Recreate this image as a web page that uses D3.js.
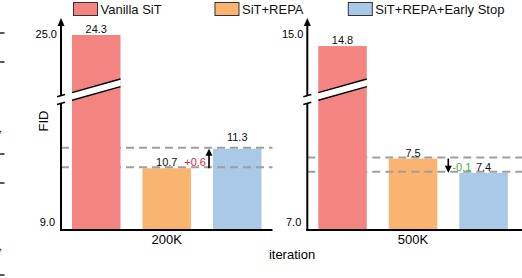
<!DOCTYPE html>
<html>
<head>
<meta charset="utf-8">
<script src="https://cdn.jsdelivr.net/npm/d3@7"></script>
<style>
  html, body { margin: 0; padding: 0; background: #fff; }
  svg { display: block; font-family: "Liberation Sans", Arial, sans-serif; }
</style>
</head>
<body>
<div id="chart"></div>
<script>
// Data
const methods = ["Vanilla SiT", "SiT+REPA", "SiT+REPA+Early Stop"];
const iterations = ["200K", "500K"];
const fid200K = [24.3, 10.7, 11.3];
const fid500K = [14.8, 7.5, 7.4];
const deltaLabels = ["+0.6", "-0.1"];
const topTicks = ["25.0", "15.0"];
const bottomTicks = ["9.0", "7.0"];
// lower / upper parts of the broken y axes
const lowerDomains = [[8.8, 12.8], [7.0, 7.91]];
const upperDomains = [[20, 25.5], [14, 15.25]];

const colors = ["#f48482", "#f9b46f", "#a9c9e7"];

// Set dimensions
const width = 522,
    height = 278;
const baseY = 230,
    axisTop = 18,
    breakY = 99.5,
    breakTop = 96,
    lowerTop = 100,
    slope = -0.28,
    gap = 3.8;
const panelX = [61, 307.3];
const panelW = 211.5;

const svg = d3
    .select("#chart")
    .append("svg")
    .attr("width", width)
    .attr("height", height);

// Legend
const legendX = [73.5, 215, 348.3];
const legend = svg
    .selectAll("g.legend")
    .data(methods)
    .enter()
    .append("g")
    .attr("class", "legend")
    .attr("transform", (d, i) => `translate(${legendX[i]},2.5)`);
legend
    .append("rect")
    .attr("width", 24)
    .attr("height", 13)
    .attr("fill", (d, i) => colors[i])
    .attr("stroke", "#333")
    .attr("stroke-width", 1);
legend
    .append("text")
    .attr("x", 27)
    .attr("y", 11)
    .attr("font-size", 13)
    .attr("fill", "#111")
    .text((d) => d);

const series = [fid200K, fid500K];

iterations.forEach((iter, p) => {
    const x0 = panelX[p];
    const values = series[p];
    const x = d3
        .scaleBand()
        .domain(methods)
        .range([x0, x0 + panelW])
        .paddingInner(0.312)
        .paddingOuter(0.156);
    const lower = d3.scaleLinear().domain(lowerDomains[p]).range([baseY, lowerTop]);
    const upper = d3.scaleLinear().domain(upperDomains[p]).range([breakTop, axisTop]);
    const yOf = (v) => (v > lowerDomains[p][1] ? upper(v) : lower(v));
    const xEnd = p === iterations.length - 1 ? width : x0 + panelW;

    const g = svg.append("g");

    // orange + blue bars
    g.selectAll("rect.low")
        .data(values.slice(1))
        .enter()
        .append("rect")
        .attr("x", (d, i) => x(methods[i + 1]))
        .attr("y", (d) => yOf(d))
        .attr("width", x.bandwidth())
        .attr("height", (d) => baseY - yOf(d))
        .attr("fill", (d, i) => colors[i + 1]);

    // dashed reference lines
    g.selectAll("line.ref")
        .data(values.slice(1))
        .enter()
        .append("line")
        .attr("x1", x0)
        .attr("x2", xEnd)
        .attr("y1", (d) => yOf(d) - 1)
        .attr("y2", (d) => yOf(d) - 1)
        .attr("stroke", "#9e9e9e")
        .attr("stroke-width", 2)
        .attr("stroke-dasharray", "8,5");

    // vanilla bar (broken)
    const v0 = values[0];
    const bx = x(methods[0]),
        bw = x.bandwidth();
    g.append("rect")
        .attr("x", bx)
        .attr("y", yOf(v0))
        .attr("width", bw)
        .attr("height", baseY - yOf(v0))
        .attr("fill", colors[0]);

    // y axis
    g.append("line")
        .attr("x1", x0)
        .attr("x2", x0)
        .attr("y1", baseY + 1)
        .attr("y2", axisTop + 5)
        .attr("stroke", "#000")
        .attr("stroke-width", 2);
    g.append("path")
        .attr("d", `M${x0},${axisTop} L${x0 - 3.5},${axisTop + 8} L${x0 + 3.5},${axisTop + 8} Z`)
        .attr("fill", "#000");

    // x axis
    g.append("line")
        .attr("x1", x0 - 1)
        .attr("x2", xEnd)
        .attr("y1", baseY)
        .attr("y2", baseY)
        .attr("stroke", "#000")
        .attr("stroke-width", 2);

    // break band
    const by = (xx, off) => breakY + slope * (xx - x0) + off;
    const bxs = x0 - 4,
        bxe = bx + bw;
    g.append("path")
        .attr(
            "d",
            `M${bxs},${by(bxs, -gap)} L${bxe},${by(bxe, -gap)} L${bxe},${by(bxe, gap)} L${bxs},${by(bxs, gap)} Z`,
        )
        .attr("fill", "#fff");
    [-gap, gap].forEach((off) => {
        [[x0 - 4, x0 + 4], [bx, bx + bw]].forEach(([a, b]) => {
            g.append("line")
                .attr("x1", a)
                .attr("x2", b)
                .attr("y1", by(a, off))
                .attr("y2", by(b, off))
                .attr("stroke", "#000")
                .attr("stroke-width", 1.5);
        });
    });

    // tick labels
    g.append("text")
        .attr("x", x0 - 4)
        .attr("y", axisTop + 20)
        .attr("text-anchor", "end")
        .attr("font-size", 11)
        .text(topTicks[p]);
    g.append("text")
        .attr("x", x0 - 6)
        .attr("y", baseY - 4)
        .attr("text-anchor", "end")
        .attr("font-size", 11)
        .text(bottomTicks[p]);

    // x category label
    g.append("text")
        .attr("x", x0 + panelW / 2)
        .attr("y", baseY + 14)
        .attr("text-anchor", "middle")
        .attr("font-size", 13)
        .text(iter);

    // value labels
    const lift = values[2] > values[1] ? 6 : 0;
    g.selectAll("text.val")
        .data(values)
        .enter()
        .append("text")
        .attr("x", (d, i) => x(methods[i]) + bw / 2)
        .attr("y", (d, i) => yOf(d) - 2 - (i === 2 ? lift : 0))
        .attr("text-anchor", "middle")
        .attr("font-size", 11)
        .attr("fill", "#111")
        .text((d) => d.toFixed(1));

    // difference arrow
    const up = values[2] > values[1];
    const ax = up ? x(methods[2]) - 4 : (x(methods[1]) + bw + x(methods[2])) / 2;
    const yFrom = yOf(values[1]),
        yTo = yOf(values[2]);
    const dir = up ? 1 : -1;
    g.append("line")
        .attr("x1", ax)
        .attr("x2", ax)
        .attr("y1", yFrom)
        .attr("y2", yTo + dir * 5)
        .attr("stroke", "#000")
        .attr("stroke-width", 1.6);
    g.append("path")
        .attr("d", `M${ax},${yTo} L${ax - 3.5},${yTo + dir * 7} L${ax + 3.5},${yTo + dir * 7} Z`)
        .attr("fill", "#000");
    g.append("text")
        .attr("x", up ? ax - 3 : ax + 4)
        .attr("y", up ? yOf(values[1]) - 2 : yOf(values[2]) - 2)
        .attr("text-anchor", up ? "end" : "start")
        .attr("font-size", 11)
        .attr("fill", up ? "#e8262b" : "#3db43d")
        .text(deltaLabels[p]);
});

// FID axis title
svg.append("text")
    .attr("transform", "translate(48,121) rotate(-90)")
    .attr("text-anchor", "middle")
    .attr("font-size", 13)
    .text("FID");

// x axis title
svg.append("text")
    .attr("x", 292)
    .attr("y", 258.5)
    .attr("text-anchor", "middle")
    .attr("font-size", 13)
    .text("iteration");

// cropped edge marks from neighbouring figure
const edgeMarks = [33, 62, 154, 183, 275];
svg.selectAll("line.edge")
    .data(edgeMarks)
    .enter()
    .append("line")
    .attr("x1", 0)
    .attr("x2", 4.5)
    .attr("y1", (d) => d)
    .attr("y2", (d) => d)
    .attr("stroke", "#222")
    .attr("stroke-width", 1.5);
svg.selectAll("text.edge")
    .data([132, 250])
    .enter()
    .append("text")
    .attr("x", -1)
    .attr("y", (d) => d)
    .attr("font-size", 11)
    .text(",");
</script>
</body>
</html>
